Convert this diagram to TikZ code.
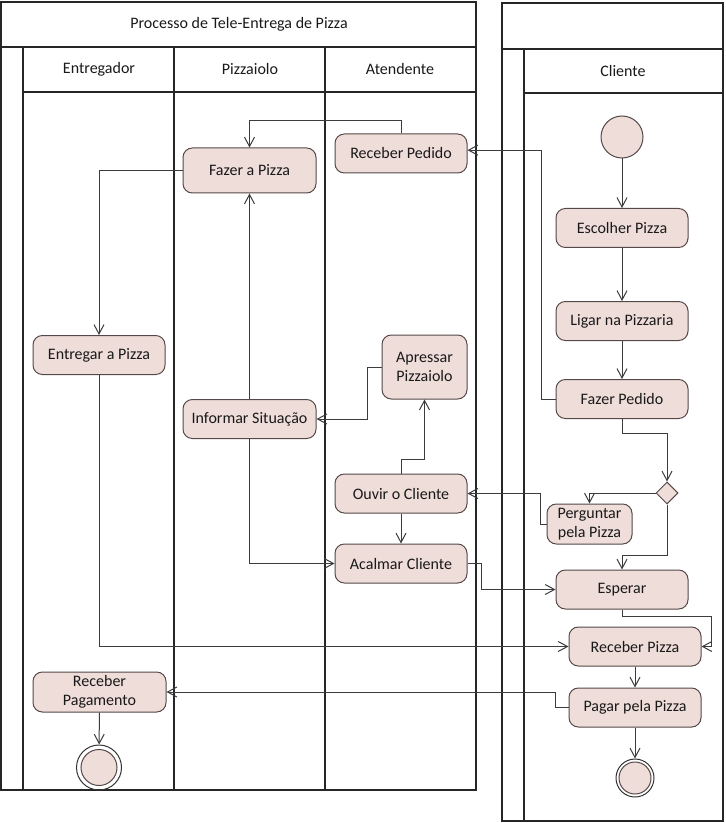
\documentclass[tikz,border=0pt]{standalone}
\usepackage{fontspec}
\setmainfont{Carlito}
\usetikzlibrary{arrows.meta}
\usetikzlibrary{shapes.geometric}
\definecolor{rosa}{RGB}{239,221,217}
\definecolor{borda}{RGB}{85,72,72}
\definecolor{seta}{RGB}{60,60,60}
\definecolor{texto}{RGB}{25,25,25}
\tikzset{
 raia/.style={draw=black!85,line width=0.9pt},
 acao/.style={draw=borda,fill=rosa,rounded corners=7pt,line width=0.75pt,
   minimum width=99pt,minimum height=29.25pt,inner sep=1pt,align=center,text=texto},
 inicial/.style={circle,draw=borda,fill=rosa,line width=0.75pt,minimum size=31.5pt,inner sep=0pt},
 decisao/.style={diamond,draw=borda,fill=rosa,line width=0.75pt,minimum size=16.5pt,inner sep=0pt},
 fluxo/.style={draw=seta,line width=0.75pt,-{Straight Barb[length=7pt,width=7.5pt]}}
}
\begin{document}
\begin{tikzpicture}[x=0.75pt,y=-0.75pt,font=\fontsize{12}{14.5}\selectfont]
\useasboundingbox (0,0) rectangle (725,823);
%piscina 1 (esquerda)
 \draw [raia](1,2) rectangle (476,790);
 \draw [raia](1,47)--(476,47);
 \draw [raia](23,92)--(476,92);
 \draw [raia](23,47)--(23,790);
 \draw [raia](174,47)--(174,790);
 \draw [raia](325,47)--(325,790);
 \node [text=texto] (titulo) at (239,24) {Processo de Tele-Entrega de Pizza};
 \node [text=texto] (entregador) at (99,69) {Entregador};
 \node [text=texto] (pizzaiolo) at (250,69) {Pizzaiolo};
 \node [text=texto] (atendente) at (400,69) {Atendente};
%piscina 2 (direita)
 \draw [raia](502,3) rectangle (723,821);
 \draw [raia](502,49)--(723,49);
 \draw [raia](524,93)--(723,93);
 \draw [raia](524,49)--(524,821);
 \node [text=texto] (cliente) at (623,71) {Cliente};
%atividades do Cliente
 \node [inicial] (inicio) at (622,137) {};
 \node [acao] (escolher) at (622,228) {Escolher Pizza};
 \node [acao] (ligar) at (622,321) {Ligar na Pizzaria};
 \node [acao] (fazerpedido) at (622,399) {Fazer Pedido};
 \node [decisao] (escolha) at (667,493) {};
 \node [acao,minimum width=63.75pt,minimum height=30pt] (perguntar) at (589.5,524) {Perguntar\\pela Pizza};
 \node [acao] (esperar) at (622,589.5) {Esperar};
 \node [acao] (recpizza) at (635,646.5) {Receber Pizza};
 \node [acao] (pagar) at (635,707.5) {Pagar pela Pizza};
 \node [circle,draw=black!80,line width=0.75pt,minimum size=28.5pt,inner sep=0pt] (fimcliente) at (635,778) {};
 \draw [draw=borda,fill=rosa,line width=0.75pt](fimcliente.center) circle [radius=12pt];
%atividades do Atendente
 \node [acao] (recpedido) at (401,153.5) {Receber Pedido};
 \node [acao,minimum width=63.75pt,minimum height=48pt] (apressar) at (424.5,367) {Apressar\\Pizzaiolo};
 \node [acao] (ouvir) at (401,493.5) {Ouvir o Cliente};
 \node [acao] (acalmar) at (401,563.5) {Acalmar Cliente};
%atividades do Pizzaiolo
 \node [acao,minimum width=99.75pt,minimum height=33.75pt] (fazerpizza) at (249.5,170.5) {Fazer a Pizza};
 \node [acao,minimum width=99.75pt] (informar) at (249.5,419) {Informar Situação};
%atividades do Entregador
 \node [acao] (entregar) at (99,355) {Entregar a Pizza};
 \node [acao,minimum width=99.75pt,minimum height=30pt] (recpagamento) at (99.5,692) {Receber\\Pagamento};
 \node [circle,draw=black!80,line width=0.75pt,minimum size=33.75pt,inner sep=0pt] (fimentregador) at (99,767.5) {};
 \draw [draw=borda,fill=rosa,line width=0.75pt](fimentregador.center) circle [radius=13.5pt];
%fluxos
 \draw [fluxo](inicio)--(escolher);
 \draw [fluxo](escolher)--(ligar);
 \draw [fluxo](ligar)--(fazerpedido);
 \draw [fluxo](fazerpedido.west)--++(-14,0)|-([yshift=2.5pt]recpedido.east);
 \draw [fluxo](recpedido.north)--++(0,-13)-|(fazerpizza.north);
 \draw [fluxo](fazerpizza.west)-|(entregar.north);
 \draw [fluxo](entregar.south)|-(recpizza.west);
 \draw [fluxo](fazerpedido.south)--++(0,14)-|(escolha.north);
 \draw [fluxo](escolha.west)-|(perguntar.north);
 \draw [fluxo](escolha.south)--++(0,51)-|(esperar.north);
 \draw [fluxo](perguntar.west)--++(-6,0)|-(ouvir.east);
 \draw [fluxo](ouvir.north)--++(0,-14)-|(apressar.south);
 \draw [fluxo](apressar.west)--++(-14,0)|-(informar.east);
 \draw [fluxo](ouvir)--(acalmar);
 \draw [fluxo](informar)--(fazerpizza);
 \draw [fluxo](informar.south)|-(acalmar.west);
 \draw [fluxo](acalmar.east)--++(14,0)|-(esperar.west);
 \draw [fluxo](esperar.south)--++(0,7)-|([xshift=7.5pt]recpizza.east)--(recpizza.east);
 \draw [fluxo](recpizza)--(pagar);
 \draw [fluxo](pagar.west)--++(-13,0)|-(recpagamento.east);
 \draw [fluxo](pagar)--(fimcliente);
 \draw [fluxo](recpagamento)--(fimentregador);
\end{tikzpicture}
\end{document}
